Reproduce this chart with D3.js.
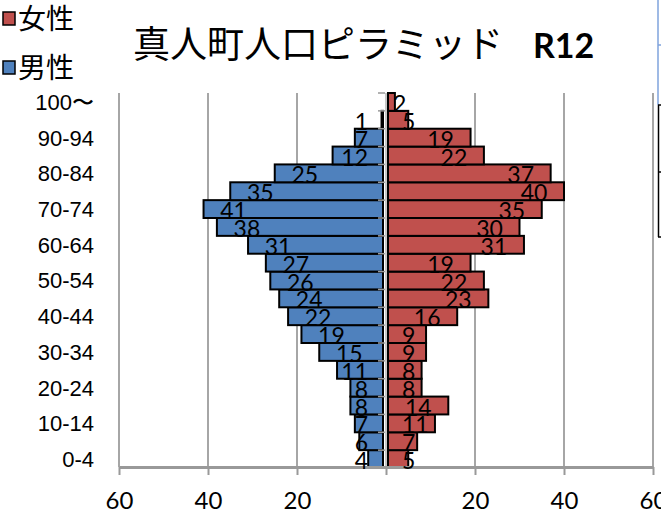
<!DOCTYPE html>
<html>
<head>
<meta charset="utf-8">
<script src="https://cdn.jsdelivr.net/npm/d3@7"></script>
<style>
  body { margin: 0; background: #fff; }
  svg { display: block; font-family: Lato, "Noto Sans CJK JP", sans-serif; }
</style>
</head>
<body>
<div class="chart"></div>
<script>
// age groups, bottom (0-4) to top (100〜)
const ageGroups = ["0-4","5-9","10-14","15-19","20-24","25-29","30-34","35-39","40-44","45-49",
  "50-54","55-59","60-64","65-69","70-74","75-79","80-84","85-89","90-94","95-99","100〜"];
const maleCounts   = [4, 6, 7, 8, 8, 11, 15, 19, 22, 24, 26, 27, 31, 38, 41, 35, 25, 12, 7, 1, 0];
const femaleCounts = [5, 7, 11, 14, 8, 8, 9, 9, 16, 23, 22, 19, 31, 30, 35, 40, 37, 22, 19, 5, 2];
const xTicks = [-60, -40, -20, 0, 20, 40, 60];
const yLabels = ageGroups.filter((d, i) => i % 2 == 0);

const width = 661, height = 512;
const red = "#C0504D", blue = "#4F81BD";

let svg = d3.select(".chart").append("svg")
  .attr("width", width)
  .attr("height", height);

svg.append("rect").attr("width", width).attr("height", height).attr("fill", "#fff");

let x = d3.scaleLinear().domain([-60, 60]).range([119, 653]);
let y = d3.scaleBand().domain(ageGroups.slice().reverse()).range([93, 468]).padding(0);
const x0 = x(0);

// grid lines
svg.append("g").selectAll("line")
  .data(xTicks.filter(d => d != 0))
  .join("line")
    .attr("x1", d => x(d)).attr("x2", d => x(d))
    .attr("y1", 93).attr("y2", 467)
    .attr("stroke", "#a6a6a6")
    .attr("stroke-width", 2);

// center line
svg.append("line")
  .attr("x1", x0).attr("x2", x0)
  .attr("y1", 93).attr("y2", 467)
  .attr("stroke", "#b5b5b5")
  .attr("stroke-width", 1.5);

// male bars (left)
svg.append("g").selectAll("rect")
  .data(ageGroups.map((a, i) => ({age: a, v: maleCounts[i]})).filter(d => d.v > 0))
  .join("rect")
    .attr("x", d => x(-d.v))
    .attr("y", d => y(d.age))
    .attr("width", d => Math.max(0, x0 - 3 - x(-d.v)))
    .attr("height", y.bandwidth())
    .attr("fill", blue)
    .attr("stroke", "#000")
    .attr("stroke-width", 2);

// female bars (right)
svg.append("g").selectAll("rect")
  .data(ageGroups.map((a, i) => ({age: a, v: femaleCounts[i]})))
  .join("rect")
    .attr("x", x0 + 2)
    .attr("y", d => y(d.age))
    .attr("width", d => Math.max(0, x(d.v) - x0 - 2))
    .attr("height", y.bandwidth())
    .attr("fill", red)
    .attr("stroke", "#000")
    .attr("stroke-width", 2);

// small ticks at band boundaries
svg.append("g").selectAll("line")
  .data(ageGroups)
  .join("line")
    .attr("x1", x0 - 8).attr("x2", x0 - 1)
    .attr("y1", d => y(d)).attr("y2", d => y(d))
    .attr("stroke", "#999")
    .attr("stroke-width", 1.5);

// bottom axis
let xAxis = svg.append("g")
  .attr("transform", "translate(0,467)")
  .call(d3.axisBottom(x).tickValues(xTicks).tickSize(8).tickSizeOuter(0)
    .tickFormat(d => d == 0 ? "" : Math.abs(d)));
xAxis.select(".domain").attr("stroke", "#999").attr("stroke-width", 3);
xAxis.selectAll(".tick line").attr("stroke", "#999").attr("stroke-width", 2);
xAxis.selectAll(".tick text")
  .attr("y", 42).attr("dy", null)
  .attr("fill", "#000")
  .style("font-size", "24px")
  .style("font-family", "Lato, sans-serif");

// left category labels
let yAxis = svg.append("g")
  .attr("transform", "translate(" + x0 + ",0)")
  .call(d3.axisLeft(y).tickValues(yLabels).tickSize(0).tickPadding(x0 - 94));
yAxis.select(".domain").remove();
yAxis.selectAll(".tick text")
  .attr("dy", "0.36em")
  .attr("fill", "#000")
  .style("font-size", "22px");

// data labels
let labels = svg.append("g").style("font-size", "23px").attr("fill", "#000");

labels.selectAll("text.m")
  .data(ageGroups.map((a, i) => ({age: a, v: maleCounts[i]})).filter(d => d.v > 0))
  .join("text")
    .attr("class", "m")
    .attr("text-anchor", "middle")
    .attr("y", d => y(d.age) + y.bandwidth() / 2 + 10)
    .text(d => d.v)
    .attr("x", function(d) {
      let w = this.getComputedTextLength();
      return Math.min(x(-d.v) + 30, x0 - 18 - w / 2);
    });

labels.selectAll("text.f")
  .data(ageGroups.map((a, i) => ({age: a, v: femaleCounts[i]})))
  .join("text")
    .attr("class", "f")
    .attr("text-anchor", "middle")
    .attr("y", d => y(d.age) + y.bandwidth() / 2 + 10)
    .text(d => d.v)
    .attr("x", function(d) {
      let w = this.getComputedTextLength();
      let minX = d.age == "100〜" ? x0 + 7 : x0 + 16;
      return Math.max(x(d.v) - 30, minX + w / 2);
    });

// title
let title = svg.append("text")
  .attr("x", 133).attr("y", 58)
  .attr("fill", "#000");
title.append("tspan")
  .style("font-family", "'Noto Sans CJK JP'")
  .style("font-size", "37px")
  .text("真人町人口ピラミッド");
title.append("tspan")
  .attr("x", 533)
  .style("font-family", "Lato, sans-serif")
  .style("font-weight", "bold")
  .style("font-size", "34px")
  .text("R12");

// legend
const legendItems = [{name: "女性", color: red, cy: 19}, {name: "男性", color: blue, cy: 68}];
let legend = svg.append("g");
legendItems.forEach(function(d) {
  legend.append("rect")
    .attr("x", 3).attr("y", d.cy - 7)
    .attr("width", 12).attr("height", 13)
    .attr("fill", d.color)
    .attr("stroke", "#000")
    .attr("stroke-width", 1.5);
  legend.append("text")
    .attr("x", 18).attr("y", d.cy + 10)
    .style("font-family", "'Noto Sans CJK JP'")
    .style("font-size", "28px")
    .text(d.name);
});

// pieces of the neighbouring chart at the right edge
svg.append("line").attr("x1", 658).attr("x2", 658).attr("y1", 0).attr("y2", 105)
  .attr("stroke", "#7fa3dc").attr("stroke-width", 1.5);
svg.append("line").attr("x1", 658).attr("x2", 661).attr("y1", 45).attr("y2", 45)
  .attr("stroke", "#7fa3dc").attr("stroke-width", 1.5);
svg.append("line").attr("x1", 658.5).attr("x2", 658.5).attr("y1", 105).attr("y2", 237)
  .attr("stroke", "#000").attr("stroke-width", 1.5);
[105, 172, 237].forEach(function(yy) {
  svg.append("line").attr("x1", 658).attr("x2", 661).attr("y1", yy).attr("y2", yy)
    .attr("stroke", "#000").attr("stroke-width", 1.5);
});
</script>
</body>
</html>
